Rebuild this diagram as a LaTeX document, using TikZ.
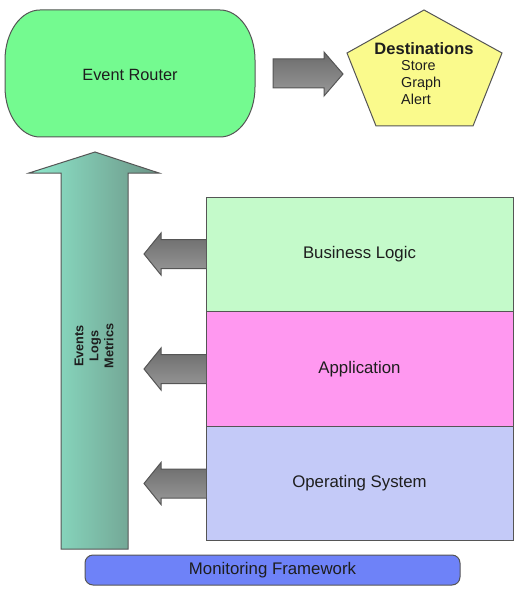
\documentclass[tikz,border=0pt]{standalone}
\usepackage{fontspec}
\setmainfont{Liberation Sans}
\definecolor{routerfill}{RGB}{116,250,144}
\definecolor{destfill}{RGB}{250,250,140}
\definecolor{bizfill}{RGB}{196,250,202}
\definecolor{appfill}{RGB}{255,152,240}
\definecolor{osfill}{RGB}{196,202,248}
\definecolor{monfill}{RGB}{110,130,248}
\definecolor{edge}{RGB}{85,85,85}
\definecolor{txt}{RGB}{30,30,30}
\definecolor{upL}{RGB}{142,232,204}
\definecolor{upR}{RGB}{108,148,134}
\begin{document}
\begin{tikzpicture}[x=1pt,y=-1pt,
  outl/.style={draw=edge,line width=1pt,line join=miter},
  grayarrow/.style={outl,top color=black!58,bottom color=black!40},
  layer/.style={outl,minimum width=307pt,minimum height=114.5pt,inner sep=0pt,font=\fontsize{16.8}{19}\selectfont,text=txt},
  lbl/.style={inner sep=0pt,text=txt}]
\useasboundingbox (0,0) rectangle (531,596);
% Event Router
\path[outl,fill=routerfill] (40,10) -- (220,10) .. controls (239.3,10) and (255,32.4) .. (255,60) -- (255,87) .. controls (255,114.6) and (239.3,137) .. (220,137) -- (40,137) .. controls (20.7,137) and (5,114.6) .. (5,87) -- (5,60) .. controls (5,32.4) and (20.7,10) .. (40,10) -- cycle;
\node[lbl,font=\fontsize{16.3}{19}\selectfont] (router) at (130,75) {Event Router};
% arrow to destinations
\path[grayarrow] (273,59) -- (324,59) -- (324,52) -- (343,74) -- (324,96) -- (324,88) -- (273,88) -- cycle;
% Destinations pentagon
\path[outl,fill=destfill] (424,10) -- (502,53) -- (473,126) -- (376,126) -- (347,53) -- cycle;
\node[lbl,font=\bfseries\fontsize{16.5}{19}\selectfont] (dest) at (424,49) {Destinations};
\node[lbl,anchor=north west,align=left,font=\fontsize{14.4}{17}\selectfont] (destitems) at (401,60) {Store\\Graph\\Alert};
% big up arrow
\path[outl,left color=upL,right color=upR] (95,152) -- (159,173) -- (128,173) -- (128,549) -- (61,549) -- (61,173) -- (29,173) -- cycle;
\node[lbl,rotate=90,align=center,font=\bfseries\fontsize{12.7}{15}\selectfont] (elm) at (94,346) {Events\\Logs\\Metrics};
% layers
\node[layer,fill=bizfill] (biz) at (359.5,254.5) {Business Logic};
\node[layer,fill=appfill] (app) at (359.5,369) {Application};
\node[layer,fill=osfill] (os) at (359.5,483.5) {Operating System};
% left arrows
\foreach \yc in {254,369,483.5}{
  \path[grayarrow] (206,\yc-14.5) -- (161,\yc-14.5) -- (161,\yc-21) -- (144,\yc) -- (161,\yc+21) -- (161,\yc+14.5) -- (206,\yc+14.5);
}
% monitoring framework
\node[outl,fill=monfill,rounded corners=8pt,minimum width=375pt,minimum height=30pt,inner sep=0pt,font=\fontsize{16.8}{19}\selectfont,text=txt] (mon) at (272.5,570) {Monitoring Framework};
\end{tikzpicture}
\end{document}
